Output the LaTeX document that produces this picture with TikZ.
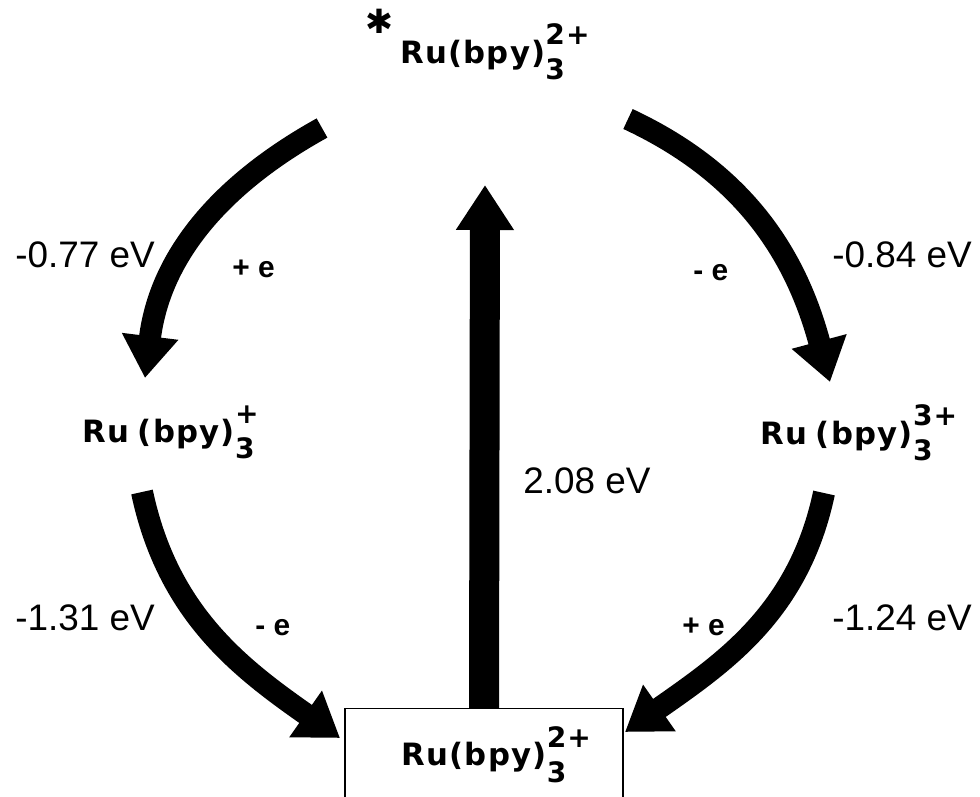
\documentclass[tikz,border=0pt]{standalone}
\usepackage{fontspec}
\setmainfont{Liberation Sans}
\newfontfamily\rufont[LetterSpace=4]{DejaVu Sans}
\usepackage{tikz}
\usetikzlibrary{arrows.meta}
\newcommand{\rub}[2]{#2\rlap{\raisebox{0.6em}{\fontsize{16}{16}\selectfont #1}}\raisebox{-0.55em}{\fontsize{16}{16}\selectfont 3}}
\newcommand{\rusp}{\spaceskip=5pt\relax}

\begin{document}
\begin{tikzpicture}[>={Triangle[width=1.08cm,length=0.84cm]},
  curvearrow/.style={->, line width=0.44cm},
  rulabel/.style={font=\rufont\bfseries\fontsize{17.5}{20}\selectfont\rusp, inner sep=0pt, anchor=base west},
  evlabel/.style={font=\fontsize{21}{24}\selectfont, inner sep=0pt, anchor=base west},
  elabel/.style={font=\bfseries\fontsize{17}{19}\selectfont, inner sep=0pt, anchor=base west}]
\useasboundingbox (0,0) rectangle (19.6,-15.92);
\node[rulabel] (1) at (8.0, -1.26) {\llap{\raisebox{17pt}{\fontsize{19}{19}\selectfont ✱}\hspace{4pt}}\rub{2+}{Ru(bpy)}};
\node[rulabel] (2) at (1.64, -8.84) {\rub{+}{Ru (bpy)}};
\node[rulabel] (3) at (15.2, -8.88) {\rub{3+}{Ru (bpy)}};
\node[draw, line width=0.8pt, minimum width=5.56cm, minimum height=1.84cm, anchor=north,
  font=\rufont\bfseries\fontsize{17.5}{20}\selectfont] (4) at (9.68, -14.16) {\rub{2+}{Ru(bpy)}};
% arrow ends
\coordinate (a1) at (6.44, -2.56);  \coordinate (b1) at (2.9, -7.56);
\coordinate (a2) at (12.56, -2.38); \coordinate (b2) at (16.6, -7.64);
\coordinate (a3) at (2.84, -9.84);  \coordinate (b3) at (6.8, -14.76);
\coordinate (a4) at (16.48, -9.86); \coordinate (b4) at (12.5, -14.64);
\coordinate (b5) at (9.7, -3.7);
 \draw [curvearrow] (a1) to[out=209, in=83] (b1);
 \draw [curvearrow] (a2) to[out=-25, in=105] (b2);
 \draw [curvearrow] (a3) to[out=-78, in=145] (b3);
 \draw [curvearrow] (a4) to[out=-102, in=35] (b4);
 \draw [->, line width=0.6cm, >={Triangle[width=1.1cm,length=0.9cm]}] (4.north) -- (b5);
% energies
\node[evlabel] (e1) at (0.3, -5.34) {-0.77 eV};
\node[evlabel] (e2) at (16.64, -5.34) {-0.84 eV};
\node[evlabel] (e3) at (0.3, -12.6) {-1.31 eV};
\node[evlabel] (e4) at (16.64, -12.6) {-1.24 eV};
\node[evlabel] (e5) at (10.46, -9.86) {2.08 eV};
\node[elabel] (p1) at (4.64, -5.54) {+ e};
\node[elabel] (p2) at (13.86, -5.6) {- e};
\node[elabel] (p3) at (5.1, -12.7) {- e};
\node[elabel] (p4) at (13.64, -12.7) {+ e};
\end{tikzpicture}
\end{document}
